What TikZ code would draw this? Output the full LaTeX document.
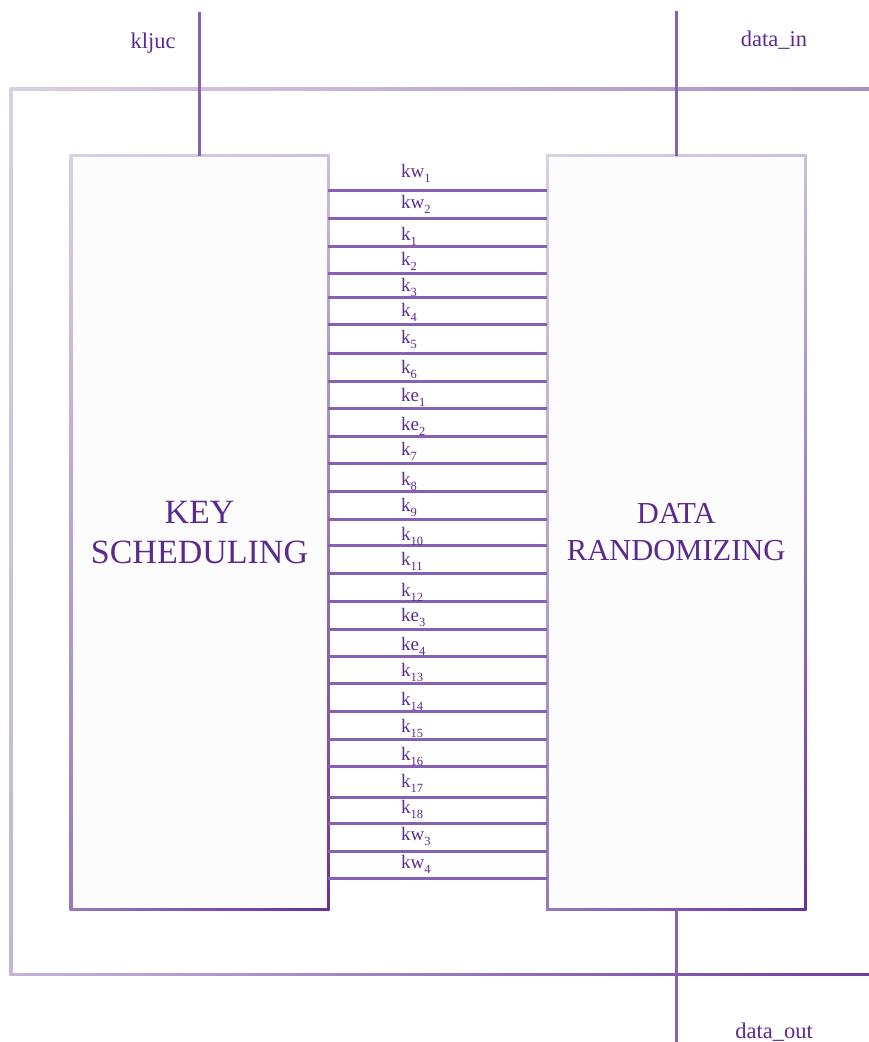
\documentclass[tikz,border=0pt]{standalone}
\usepackage{fontspec}
\setmainfont{Liberation Serif}
\usetikzlibrary{calc,backgrounds,shadings}
\definecolor{txt}{HTML}{5B2A8E}
\definecolor{wirec}{HTML}{8660B4}
\definecolor{boxbg}{HTML}{FCFCFC}
% outer frame corners
\definecolor{fUL}{HTML}{D8D0E5}
\definecolor{fUR}{HTML}{A68EC4}
\definecolor{fLL}{HTML}{C4B4D8}
\definecolor{fLR}{HTML}{6E3CA2}
% box corners
\definecolor{bUL}{HTML}{D8D0E5}
\definecolor{bUR}{HTML}{CCC0DD}
\definecolor{bLL}{HTML}{9878BE}
\definecolor{bLR}{HTML}{6A2E9E}
\newcommand{\kidx}[1]{\raisebox{-5pt}{\fontsize{12.5}{12.5}\selectfont #1}}
\begin{document}
\begin{tikzpicture}[x=1pt,y=1pt,
  wire/.style={draw=wirec, line width=3pt},
  box/.style={rectangle, fill=boxbg, inner sep=0pt, outer sep=0pt, text=txt, align=center},
  klabel/.style={anchor=base west, inner sep=0pt, text=txt, font=\fontsize{19}{19}\selectfont},
  port/.style={anchor=base, inner sep=0pt, text=txt, font=\fontsize{22.5}{22.5}\selectfont},
  frameshade/.style={shading=bilinear interpolation, upper left=fUL, upper right=fUR, lower left=fLL, lower right=fLR},
  boxshade/.style={shading=bilinear interpolation, upper left=bUL, upper right=bUR, lower left=bLL, lower right=bLR}]
\useasboundingbox (0,0) rectangle (869,-1042);
\clip (0,0) rectangle (869,-1042);

\node[box, minimum width=254pt, minimum height=750.5pt, font=\fontsize{34}{40}\selectfont] (ks) at (199.5,-532.25) {KEY\\SCHEDULING};
\node[box, minimum width=254.5pt, minimum height=750.5pt, font=\fontsize{30.5}{37}\selectfont] (dr) at (676.25,-532.25) {DATA\\RANDOMIZING};

\begin{pgfonlayer}{background}
  \shade[frameshade] (9.5,-87.5) rectangle (872,-975.8);
  \fill[white] (12.5,-90.5) rectangle (872,-972.8);
  \shade[boxshade] ($(ks.north west)+(-3,3)$) rectangle ($(ks.south east)+(3,-3)$);
  \shade[boxshade] ($(dr.north west)+(-3,3)$) rectangle ($(dr.south east)+(3,-3)$);
\end{pgfonlayer}

% ports
\coordinate (kin) at (199,-12);
\coordinate (din) at (676,-11);
\coordinate (dout) at (676,-1046);
\draw[wire, shorten >=1.5pt] (kin) -- (kin |- ks.north);
\draw[wire, shorten >=1.5pt] (din) -- (din |- dr.north);
\draw[wire, shorten <=1.5pt] (dout |- dr.south) -- (dout);
\node[port] (kl) at (153,-48) {kljuc};
\node[port] (dil) at (774,-46) {data\_in};
\node[port] (dol) at (774,-1038) {data\_out};

% key wires
\foreach \ly/\lb/\base/\sb [count=\i] in {
  190/177/kw/1, 218/208.5/kw/2, 246/240.5/k/1, 273/265/k/2, 297/291.5/k/3,
  324/316.5/k/4, 353/343/k/5, 381/373/k/6, 408/401.5/ke/1, 436/430/ke/2,
  463/455/k/7, 491/485.5/k/8, 519/511.5/k/9, 545/540.5/k/10, 573/565/k/11,
  601/596.5/k/12, 629/621.5/ke/3, 656/650/ke/4, 683/676.5/k/13, 711/705/k/14,
  739/732.5/k/15, 766/760/k/16, 797/787.5/k/17, 823/813/k/18, 851/840.5/kw/3,
  878/868/kw/4}{
  \coordinate (w\i) at (0,-\ly);
  \draw[wire, shorten <=1.5pt, shorten >=2.5pt] (ks.east |- w\i) -- (dr.west |- w\i);
  \node[klabel] (lab\i) at (401,-\lb) {\base\kidx{\sb}};
}
\end{tikzpicture}
\end{document}
